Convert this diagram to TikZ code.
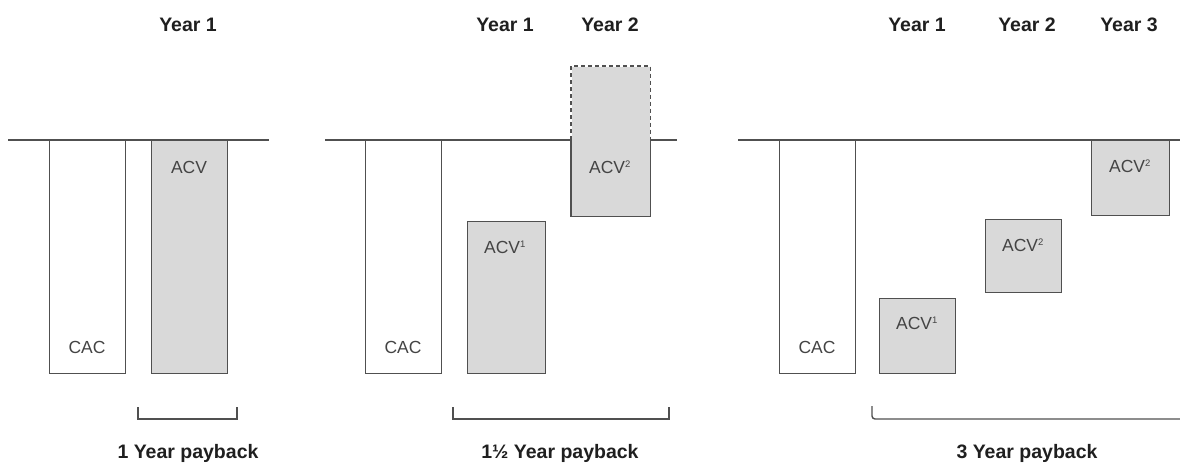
\documentclass[tikz,border=0pt]{standalone}
\usepackage{fontspec}
\setmainfont{Liberation Sans}
\definecolor{boxfill}{HTML}{D9D9D9}
\definecolor{edge}{HTML}{505050}
\definecolor{lbltext}{HTML}{444444}
\tikzset{
  axisline/.style={draw=edge, line width=1.4pt},
  cacbox/.style={draw=edge, line width=1.4pt, fill=white, minimum width=76pt, inner sep=0pt, anchor=north west},
  acvbox/.style={draw=edge, line width=1.4pt, fill=boxfill, minimum width=77pt, inner sep=0pt, anchor=north west},
  bracketline/.style={draw=edge, line width=1.4pt},
  lbl/.style={text=lbltext, font=\fontsize{17.5}{20}\selectfont, inner sep=0pt},
  title/.style={text=black!88, font=\bfseries\fontsize{19.5}{23}\selectfont, inner sep=0pt},
}
\newcommand{\supnum}[1]{\textsuperscript{\fontsize{9.5}{10}\selectfont #1}}
\begin{document}
\begin{tikzpicture}[x=1pt, y=-1pt]
\useasboundingbox (0,0) rectangle (1180,464);
% ---------- Panel 1 ----------
\coordinate (b1l) at (8,140);
\coordinate (b1r) at (269,140);
\draw[axisline] (b1l) -- (b1r);
\node[cacbox, minimum height=233pt] (cac1) at (49,140) {};
\node[acvbox, minimum width=76pt, minimum height=233pt] (acv1) at (151,140) {};
\node[lbl] (cac1t) at (87,347) {CAC};
\node[lbl] (acv1t) at (189,167) {ACV};
\node[title] (y11) at (188,25) {Year 1};
\coordinate (k1a) at (138,407);
\coordinate (k1b) at (138,419);
\coordinate (k1c) at (237,419);
\coordinate (k1d) at (237,407);
\draw[bracketline] (k1a) -- (k1b) -- (k1c) -- (k1d);
\node[title] (p1) at (188,453) {1 Year payback};
% ---------- Panel 2 ----------
\coordinate (b2l) at (325,140);
\coordinate (b2r) at (677,140);
\draw[axisline] (b2l) -- (b2r);
\node[cacbox, minimum height=233pt] (cac2) at (365,140) {};
\node[acvbox, minimum width=78pt, minimum height=152pt] (acv21) at (467,221) {};
\node[acvbox, draw=none, minimum width=78pt, minimum height=149pt] (acv22) at (571,66) {};
\draw[draw=edge, line width=1.4pt, dash pattern=on 4pt off 3pt]
  ([yshift=-74pt]acv22.north west) -- (acv22.north west) -- (acv22.north east) -- ([yshift=-74pt]acv22.north east);
\draw[draw=edge, line width=1.4pt]
  ([yshift=-74pt]acv22.north west) -- (acv22.south west) -- (acv22.south east) -- ([yshift=-74pt]acv22.north east);
\node[lbl] (cac2t) at (403,347) {CAC};
\node[lbl] (acv21t) at (505,247) {ACV\supnum{1}};
\node[lbl] (acv22t) at (610,167) {ACV\supnum{2}};
\node[title] (y21) at (505,25) {Year 1};
\node[title] (y22) at (610,25) {Year 2};
\coordinate (k2a) at (453,407);
\coordinate (k2b) at (453,419);
\coordinate (k2c) at (669,419);
\coordinate (k2d) at (669,407);
\draw[bracketline] (k2a) -- (k2b) -- (k2c) -- (k2d);
\node[title] (p2) at (560,453) {1½ Year payback};
% ---------- Panel 3 ----------
\coordinate (b3l) at (738,140);
\coordinate (b3r) at (1180,140);
\draw[axisline] (b3l) -- (b3r);
\node[cacbox, minimum height=233pt] (cac3) at (779,140) {};
\node[acvbox, minimum width=76pt, minimum height=75pt] (acv31) at (879,298) {};
\node[acvbox, minimum width=76pt, minimum height=73pt] (acv32) at (985,219) {};
\node[acvbox, minimum width=78pt, minimum height=75pt] (acv33) at (1091,140) {};
\node[lbl] (cac3t) at (817,347) {CAC};
\node[lbl] (acv31t) at (917,323) {ACV\supnum{1}};
\node[lbl] (acv32t) at (1023,245) {ACV\supnum{2}};
\node[lbl] (acv33t) at (1130,166) {ACV\supnum{2}};
\node[title] (y31) at (917,25) {Year 1};
\node[title] (y32) at (1027,25) {Year 2};
\node[title] (y33) at (1129,25) {Year 3};
\coordinate (k3a) at (872,406);
\coordinate (k3b) at (872,419);
\coordinate (k3c) at (1180,419);
\draw[bracketline, rounded corners=3pt] (k3a) -- (k3b) -- (k3c);
\node[title] (p3) at (1027,453) {3 Year payback};
\end{tikzpicture}
\end{document}
